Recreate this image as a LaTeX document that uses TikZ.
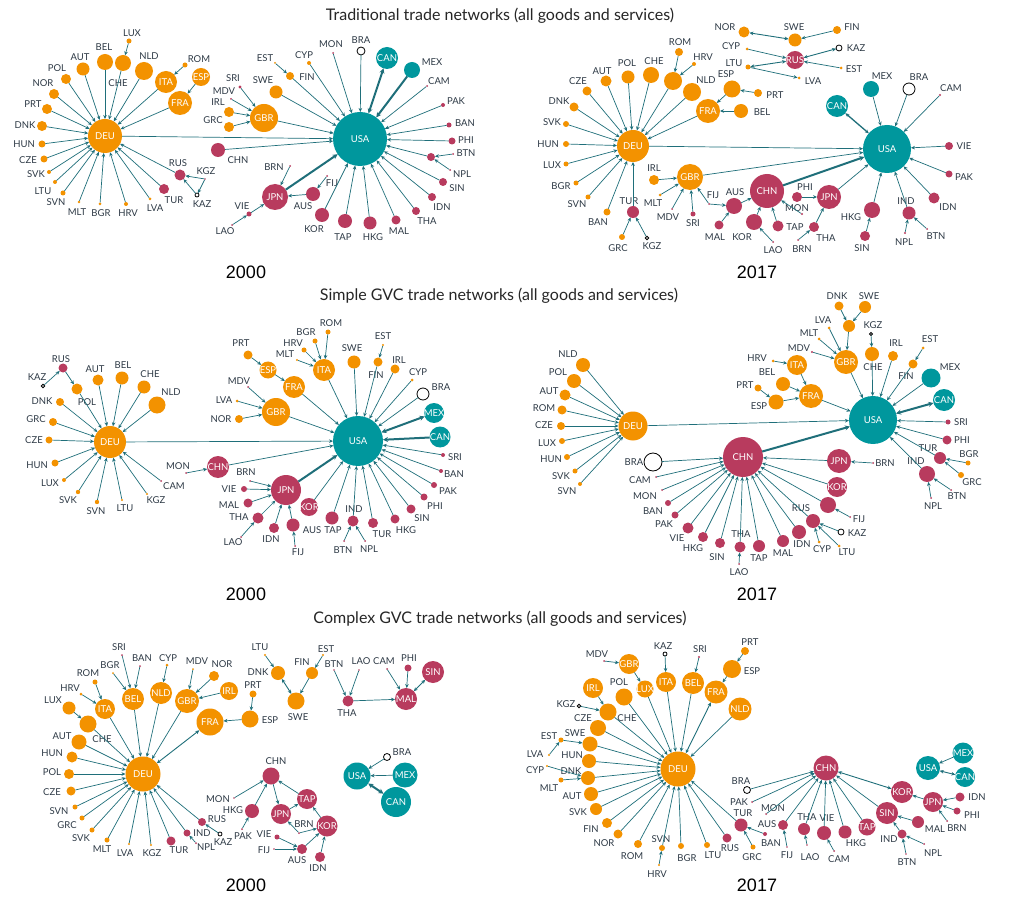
\documentclass[tikz,border=0pt]{standalone}
\usepackage{fontspec}
\setmainfont{Lato}
\newfontfamily\yearfont{Liberation Sans}
\usetikzlibrary{arrows.meta}
\definecolor{cor}{HTML}{F39200}
\definecolor{cte}{HTML}{00979D}
\definecolor{ccr}{HTML}{B83B5E}
\definecolor{car}{HTML}{1F6F7A}
\definecolor{ctx}{HTML}{2E3A46}
\newcommand\labfont{\fontsize{9.5}{10}\selectfont}
\tikzset{
 cnode/.style={circle,inner sep=0pt,outer sep=0pt},
 sor/.style={cnode,fill=cor},
 ste/.style={cnode,fill=cte},
 scr/.style={cnode,fill=ccr},
 sop/.style={cnode,draw=black,fill=white,line width=0.8pt},
 lab/.style={text=ctx,font=\labfont,inner sep=0pt},
 inl/.style={text=white,font=\labfont,inner sep=0pt},
 ar/.style={draw=car,line width=0.7pt,-{Stealth[length=4pt,width=3.6pt]}},
 ar2/.style={draw=car,line width=0.9pt,{Stealth[length=4pt,width=3.6pt]}-{Stealth[length=4pt,width=3.6pt]}},
 th/.style={draw=car,line width=2pt,-{Stealth[length=5pt,width=5pt]}},
 th2/.style={draw=car,line width=2pt,{Stealth[length=5pt,width=5pt]}-{Stealth[length=5pt,width=5pt]}},
 ttl/.style={text=black!85,font=\fontsize{16}{18}\selectfont},
 yr/.style={text=black,font=\yearfont\fontsize{18}{20}\selectfont},
}
\newcommand\ndI[6]{\node[#5,minimum size=#4*2pt] (#1) at (#2,#3) {}; \node[inl] (#1-t) at (#1) {#6};}
\newcommand\ndO[8]{\node[#5,minimum size=#4*2pt] (#1) at (#2,#3) {}; \node[lab] (#1-l) at (#7,#8) {#6};}
\newcommand\ndU[5]{\node[#5,minimum size=#4*2pt] (#1) at (#2,#3) {};}
\newcommand\ed[2]{\draw[ar] (#1)--(#2);}
\newcommand\spokes[3]{\foreach \s in {#3} {\draw[ar] (#2\s)--(#2#1);}}
\begin{document}
\begin{tikzpicture}[x=1pt,y=-1pt]
\useasboundingbox (0,0) rectangle (1023,901);
\fill[white] (0,0) rectangle (1023,901);
% titles
\node[ttl] (t1) at (500,16) {Traditional trade networks (all goods and services)};
\node[ttl] (t2) at (499,296) {Simple GVC trade networks (all goods and services)};
\node[ttl] (t3) at (500,619) {Complex GVC trade networks (all goods and services)};
\node[yr] (y1) at (246,272) {2000};
\node[yr] (y2) at (757,272) {2017};
\node[yr] (y3) at (246,594) {2000};
\node[yr] (y4) at (757,594) {2017};
\node[yr] (y5) at (246,885) {2000};
\node[yr] (y6) at (757,885) {2017};

%================ PANEL A
\ndI{aDEU}{105}{136}{17}{sor}{DEU}
\ndI{aUSA}{360}{139}{27}{ste}{USA}
\ndI{aGBR}{264}{118}{14}{sor}{GBR}
\ndI{aITA}{166}{82}{11}{sor}{ITA}
\ndI{aESP}{201}{77}{9}{sor}{ESP}
\ndI{aFRA}{180}{103}{12}{sor}{FRA}
\ndI{aCAN}{387}{58}{11}{ste}{CAN}
\ndI{aJPN}{275}{197}{13}{scr}{JPN}
\ndO{aLUX}{129}{41}{2.5}{sor}{LUX}{132}{33}
\ndO{aBEL}{105}{62}{8}{sor}{BEL}{104}{47}
\ndO{aCHE}{123}{63}{8}{sor}{CHE}{118}{83}
\ndO{aAUT}{83}{69}{6.5}{sor}{AUT}{80}{57}
\ndO{aNLD}{144}{71}{9}{sor}{NLD}{149}{56}
\ndO{aPOL}{66}{79}{5}{sor}{POL}{57}{68}
\ndO{aNOR}{54}{94}{5}{sor}{NOR}{43}{83}
\ndO{aPRT}{47}{109}{5}{sor}{PRT}{33}{104}
\ndO{aDNK}{42}{126}{5}{sor}{DNK}{25}{125}
\ndO{aHUN}{42}{144}{3.5}{sor}{HUN}{24}{144}
\ndO{aCZE}{44}{159}{3.5}{sor}{CZE}{28}{160}
\ndO{aSVK}{49}{172}{2}{sor}{SVK}{36}{174}
\ndO{aLTU}{55}{182}{2}{sor}{LTU}{43}{191}
\ndO{aSVN}{63}{193}{2.5}{sor}{SVN}{56}{202}
\ndO{aMLT}{79}{202}{1.3}{sor}{MLT}{77}{212}
\ndO{aBGR}{100}{204}{1.5}{sor}{BGR}{101}{213}
\ndO{aHRV}{126}{204}{2}{sor}{HRV}{128}{213}
\ndO{aLVA}{150}{199}{1.5}{sor}{LVA}{155}{208}
\ndO{aTUR}{164}{189}{5}{scr}{TUR}{174}{200}
\ndO{aRUS}{180}{175}{5.5}{scr}{RUS}{178}{163}
\ndO{aKGZ}{205}{179}{0.8}{scr}{KGZ}{206}{171}
\ndO{aKAZ}{197}{195}{2}{sop}{KAZ}{202}{204}
\ndO{aROM}{185}{65}{2.5}{sor}{ROM}{199}{59}
\ndO{aCHN}{218}{150}{7}{scr}{CHN}{238}{160}
\ndO{aSRI}{240}{87}{1.7}{scr}{SRI}{233}{78}
\ndO{aMDV}{231}{99}{1}{scr}{MDV}{224}{91}
\ndO{aIRL}{229}{112}{5}{sor}{IRL}{218}{102}
\ndO{aGRC}{229}{127}{5}{sor}{GRC}{213}{120}
\ndO{aSWE}{276}{92}{6.5}{sor}{SWE}{263}{80}
\ndO{aFIN}{290}{76}{4}{sor}{FIN}{307}{77}
\ndO{aEST}{275}{63}{1}{sor}{EST}{265}{58}
\ndO{aCYP}{309}{63}{2}{sor}{CYP}{304}{55}
\ndO{aMON}{333}{53}{1}{scr}{MON}{331}{44}
\ndO{aBRA}{361}{51}{4}{sop}{BRA}{361}{40}
\ndO{aMEX}{412}{70}{8}{ste}{MEX}{432}{62}
\ndO{aCAM}{427}{86}{1}{scr}{CAM}{439}{81}
\ndO{aPAK}{443}{105}{2}{scr}{PAK}{456}{101}
\ndO{aBAN}{449}{125}{2.5}{scr}{BAN}{465}{123}
\ndO{aPHI}{452}{141}{3.5}{scr}{PHI}{466}{140}
\ndU{aIND}{431}{157}{4}{scr}
\ndO{aBTN}{453}{154}{1}{scr}{BTN}{466}{153}
\ndO{aNPL}{450}{170}{1}{scr}{NPL}{462}{174}
\ndO{aSIN}{443}{182}{4}{scr}{SIN}{457}{188}
\ndO{aIDN}{432}{197}{4}{scr}{IDN}{442}{207}
\ndO{aTHA}{416}{211}{4}{scr}{THA}{427}{221}
\ndO{aMAL}{396}{220}{4.5}{scr}{MAL}{399}{231}
\ndO{aHKG}{370}{223}{6.5}{scr}{HKG}{373}{237}
\ndO{aTAP}{345}{221}{7}{scr}{TAP}{343}{237}
\ndO{aKOR}{322}{215}{7}{scr}{KOR}{314}{229}
\ndO{aAUS}{313}{194}{7}{scr}{AUS}{303}{206}
\ndO{aFIJ}{327}{176}{1}{scr}{FIJ}{332}{183}
\ndO{aBRN}{290}{166}{1}{scr}{BRN}{274}{167}
\ndO{aVIE}{249}{214}{2.5}{scr}{VIE}{242}{206}
\ndO{aLAO}{232}{225}{1}{scr}{LAO}{225}{231}

\spokes{DEU}{a}{BEL,CHE,AUT,NLD,POL,NOR,PRT,DNK,HUN,CZE,SVK,LTU,SVN,MLT,BGR,HRV,LVA,TUR,RUS,ITA,FRA}
\ed{aLUX}{aCHE}\ed{aROM}{aITA}\ed{aESP}{aFRA}\ed{aKGZ}{aRUS}\ed{aKGZ}{aKAZ}\ed{aKAZ}{aRUS}
\spokes{GBR}{a}{SRI,MDV,IRL,GRC}
\ed{aEST}{aFIN}
\spokes{USA}{a}{DEU,CHN,GBR,SWE,FIN,CYP,MON,BRA,CAM,PAK,BAN,PHI,IND,SIN,IDN,THA,MAL,HKG,TAP,KOR}
\draw[th2] (aCAN)--(aUSA); \draw[th] (aMEX)--(aUSA); \draw[th] (aJPN)--(aUSA);
\spokes{IND}{a}{BTN,NPL}
\spokes{JPN}{a}{BRN,AUS,VIE}
\ed{aLAO}{aVIE}\ed{aFIJ}{aAUS}

%================ PANEL B
\ndI{bDEU}{633}{146}{16}{sor}{DEU}
\ndI{bFRA}{708}{111}{12}{sor}{FRA}
\ndI{bGBR}{690}{177}{13}{sor}{GBR}
\ndI{bCHN}{767}{191}{17}{scr}{CHN}
\ndI{bUSA}{887}{149}{24}{ste}{USA}
\ndI{bCAN}{837}{106}{11}{ste}{CAN}
\ndI{bJPN}{829}{197}{12}{scr}{JPN}
\ndI{bRUS}{795}{60}{9}{scr}{RUS}
\ndO{bROM}{679}{52}{4}{sor}{ROM}{680}{42}
\ndO{bHRV}{694}{64}{2}{sor}{HRV}{703}{57}
\ndU{bITA}{673}{81}{9}{sor}
\ndO{bCHE}{651}{75}{8}{sor}{CHE}{654}{61}
\ndO{bPOL}{628}{77}{6.5}{sor}{POL}{627}{63}
\ndO{bAUT}{606}{81}{5.5}{sor}{AUT}{602}{71}
\ndO{bCZE}{587}{91}{4.5}{sor}{CZE}{578}{81}
\ndO{bDNK}{574}{107}{4.5}{sor}{DNK}{559}{101}
\ndO{bSVK}{566}{124}{3}{sor}{SVK}{552}{122}
\ndO{bHUN}{566}{144}{3}{sor}{HUN}{548}{144}
\ndO{bLUX}{566}{164}{2.5}{sor}{LUX}{552}{165}
\ndO{bBGR}{576}{183}{2.5}{sor}{BGR}{561}{186}
\ndO{bSVN}{588}{197}{2.5}{sor}{SVN}{577}{204}
\ndO{bBAN}{607}{212}{3.5}{sor}{BAN}{598}{222}
\ndO{bNLD}{692}{92}{9}{sor}{NLD}{706}{80}
\ndO{bESP}{732}{89}{8.5}{sor}{ESP}{726}{74}
\ndO{bPRT}{758}{93}{4}{sor}{PRT}{775}{95}
\ndO{bBEL}{741}{111}{7}{sor}{BEL}{762}{112}
\ndO{bTUR}{633}{212}{6}{scr}{TUR}{629}{201}
\ndO{bGRC}{622}{237}{3}{sor}{GRC}{618}{248}
\ndO{bKGZ}{647}{238}{1.8}{sop}{KGZ}{652}{246}
\ndO{bIRL}{654}{180}{5}{sor}{IRL}{654}{168}
\ndO{bMLT}{660}{195}{1.5}{sor}{MLT}{653}{203}
\ndO{bMDV}{672}{209}{1}{scr}{MDV}{668}{217}
\ndO{bSRI}{693}{214}{2.5}{scr}{SRI}{693}{223}
\ndO{bFIJ}{709}{204}{1}{scr}{FIJ}{713}{195}
\ndO{bAUS}{734}{206}{8}{scr}{AUS}{735}{192}
\ndO{bMAL}{719}{225}{4.5}{scr}{MAL}{715}{237}
\ndO{bKOR}{754}{222}{8}{scr}{KOR}{742}{237}
\ndO{bNOR}{744}{32}{5.5}{sor}{NOR}{725}{27}
\ndO{bCYP}{747}{49}{1.5}{sor}{CYP}{731}{46}
\ndO{bLTU}{748}{67}{2.5}{sor}{LTU}{734}{63}
\ndO{bSWE}{795}{40}{6.5}{sor}{SWE}{794}{27}
\ndO{bFIN}{837}{30}{4}{sor}{FIN}{852}{27}
\ndO{bKAZ}{839}{48}{3}{sop}{KAZ}{856}{48}
\ndO{bEST}{841}{68}{1.5}{sor}{EST}{854}{69}
\ndO{bLVA}{799}{78}{1.5}{sor}{LVA}{813}{81}
\ndO{bMEX}{871}{89}{8}{ste}{MEX}{882}{76}
\ndO{bBRA}{909}{89}{6}{sop}{BRA}{919}{77}
\ndO{bCAM}{940}{95}{1.2}{scr}{CAM}{951}{88}
\ndO{bVIE}{949}{146}{4}{scr}{VIE}{964}{146}
\ndO{bPAK}{949}{174}{3.5}{scr}{PAK}{964}{177}
\ndO{bIDN}{934}{198}{5.5}{scr}{IDN}{948}{207}
\ndO{bIND}{909}{213}{6.5}{scr}{IND}{906}{201}
\ndO{bNPL}{905}{233}{1.2}{scr}{NPL}{904}{242}
\ndO{bBTN}{927}{229}{1}{scr}{BTN}{936}{236}
\ndO{bHKG}{872}{210}{8}{scr}{HKG}{851}{217}
\ndO{bSIN}{865}{236}{5}{scr}{SIN}{862}{248}
\ndO{bPHI}{797}{197}{5}{scr}{PHI}{805}{187}
\ndO{bMON}{802}{214}{1.2}{scr}{MON}{797}{208}
\ndO{bTAP}{778}{226}{5.5}{scr}{TAP}{795}{227}
\ndO{bTHA}{814}{227}{5}{scr}{THA}{826}{238}
\ndO{bBRN}{798}{240}{1}{scr}{BRN}{802}{249}
\ndO{bLAO}{773}{242}{1}{scr}{LAO}{773}{250}

\spokes{DEU}{b}{CHE,POL,AUT,CZE,DNK,SVK,HUN,LUX,BGR,SVN,BAN,ITA,NLD,FRA,TUR}
\spokes{ITA}{b}{ROM,HRV}
\spokes{FRA}{b}{ESP,BEL}
\ed{bPRT}{bESP}
\spokes{TUR}{b}{GRC,KGZ}
\spokes{GBR}{b}{IRL,MLT,MDV,SRI,FIJ}
\spokes{AUS}{b}{FIJ,MAL}
\spokes{CHN}{b}{AUS,KOR,MON,TAP}
\ed{bLAO}{bKOR}
\spokes{JPN}{b}{PHI,THA}
\ed{bBRN}{bTHA}
\spokes{USA}{b}{DEU,GBR,JPN,HKG,IND,IDN,PAK,VIE,CAM,BRA,MEX}
\draw[th] (bCHN)--(bUSA);
\draw[ar2,line width=1.3pt] (bCAN)--(bUSA);
\ed{bSIN}{bHKG}
\spokes{IND}{b}{NPL,BTN}
\draw[ar2] (bNOR)--(bSWE); \ed{bFIN}{bSWE} \draw[ar2] (bKAZ)--(bRUS); \ed{bEST}{bRUS}\ed{bCYP}{bRUS} \draw[ar2] (bLTU)--(bRUS); \ed{bLTU}{bLVA}

%================ PANEL C
\ndI{cDEU}{110}{442}{16}{sor}{DEU}
\ndI{cCHN}{218}{467}{11}{scr}{CHN}
\ndI{cUSA}{358}{441}{25}{ste}{USA}
\ndI{cESP}{268}{370}{8.5}{sor}{ESP}
\ndI{cFRA}{294}{387}{11}{sor}{FRA}
\ndI{cGBR}{276}{412}{14}{sor}{GBR}
\ndI{cITA}{324}{370}{11}{sor}{ITA}
\ndI{cMEX}{434}{413}{10}{ste}{MEX}
\ndI{cCAN}{440}{437}{10.5}{ste}{CAN}
\ndI{cKOR}{309}{507}{9}{scr}{KOR}
\ndI{cJPN}{286}{490}{15}{scr}{JPN}
\ndO{cRUS}{63}{368}{4.5}{scr}{RUS}{61}{359}
\ndO{cKAZ}{43}{386}{1.8}{sop}{KAZ}{37}{377}
\ndO{cPOL}{77}{389}{5.5}{sor}{POL}{87}{402}
\ndO{cAUT}{98}{380}{5.5}{sor}{AUT}{95}{369}
\ndO{cBEL}{122}{378}{6.5}{sor}{BEL}{123}{365}
\ndO{cCHE}{144}{387}{6.5}{sor}{CHE}{150}{374}
\ndO{cNLD}{157}{405}{8.5}{sor}{NLD}{171}{392}
\ndO{cDNK}{60}{402}{4}{sor}{DNK}{42}{401}
\ndO{cGRC}{53}{422}{4}{sor}{GRC}{36}{419}
\ndO{cCZE}{49}{440}{3.5}{sor}{CZE}{34}{440}
\ndO{cHUN}{55}{463}{3.5}{sor}{HUN}{37}{465}
\ndO{cLUX}{64}{480}{2}{sor}{LUX}{50}{483}
\ndO{cSVK}{78}{492}{2.2}{sor}{SVK}{68}{500}
\ndO{cSVN}{97}{502}{2.2}{sor}{SVN}{96}{511}
\ndO{cLTU}{122}{500}{1.2}{sor}{LTU}{125}{508}
\ndO{cKGZ}{147}{494}{1.2}{sor}{KGZ}{156}{500}
\ndO{cCAM}{161}{481}{1}{scr}{CAM}{174}{486}
\ndO{cMON}{186}{473}{1}{scr}{MON}{178}{466}
\ndO{cPRT}{248}{355}{4.5}{sor}{PRT}{241}{343}
\ndO{cMDV}{248}{387}{1}{scr}{MDV}{239}{381}
\ndO{cLVA}{237}{401}{1.5}{sor}{LVA}{224}{400}
\ndO{cNOR}{239}{419}{4}{sor}{NOR}{221}{419}
\ndO{cBRN}{250}{481}{1}{scr}{BRN}{246}{472}
\ndO{cVIE}{244}{489}{3}{scr}{VIE}{229}{489}
\ndO{cMAL}{248}{503}{4.5}{scr}{MAL}{229}{505}
\ndO{cTHA}{258}{518}{5.5}{scr}{THA}{239}{517}
\ndO{cLAO}{241}{537}{1}{scr}{LAO}{233}{542}
\ndO{cROM}{328}{332}{2.5}{sor}{ROM}{331}{323}
\ndO{cBGR}{315}{341}{2.5}{sor}{BGR}{306}{332}
\ndO{cHRV}{304}{350}{2.5}{sor}{HRV}{293}{343}
\ndO{cMLT}{297}{360}{1.2}{sor}{MLT}{285}{354}
\ndO{cSWE}{354}{362}{6.5}{sor}{SWE}{352}{348}
\ndO{cFIN}{378}{362}{4.5}{sor}{FIN}{376}{375}
\ndO{cEST}{383}{345}{1.2}{sor}{EST}{383}{336}
\ndO{cIRL}{395}{369}{4.5}{sor}{IRL}{399}{360}
\ndO{cCYP}{412}{380}{1.5}{sor}{CYP}{418}{372}
\ndO{cBRA}{423}{394}{6}{sop}{BRA}{441}{387}
\ndO{cSRI}{443}{455}{2}{scr}{SRI}{455}{457}
\ndO{cBAN}{441}{471}{2}{scr}{BAN}{454}{474}
\ndO{cPAK}{434}{485}{3}{scr}{PAK}{448}{491}
\ndO{cPHI}{424}{497}{3.5}{scr}{PHI}{435}{506}
\ndO{cSIN}{411}{509}{4.5}{scr}{SIN}{422}{518}
\ndO{cHKG}{395}{519}{4.5}{scr}{HKG}{406}{530}
\ndO{cTUR}{373}{523}{5}{scr}{TUR}{382}{534}
\ndO{cIND}{353}{521}{5.5}{scr}{IND}{354}{509}
\ndO{cBTN}{344}{541}{1}{scr}{BTN}{343}{550}
\ndO{cNPL}{365}{541}{1}{scr}{NPL}{369}{549}
\ndO{cTAP}{332}{518}{6.5}{scr}{TAP}{333}{530}
\ndO{cAUS}{293}{525}{6.5}{scr}{AUS}{312}{530}
\ndO{cFIJ}{295}{546}{1}{scr}{FIJ}{298}{552}
\ndO{cIDN}{274}{528}{5}{scr}{IDN}{271}{539}

\spokes{DEU}{c}{POL,AUT,BEL,CHE,NLD,DNK,GRC,CZE,HUN,LUX,SVK,SVN,LTU,KGZ,CAM}
\ed{cKAZ}{cRUS}\ed{cRUS}{cPOL}\ed{cMON}{cCHN}\ed{cCHN}{cUSA}\ed{cDEU}{cUSA}\ed{cPRT}{cESP}\ed{cESP}{cFRA}
\spokes{GBR}{c}{MDV,LVA,NOR}
\spokes{ITA}{c}{ROM,BGR,HRV,MLT}
\spokes{USA}{c}{ITA,FRA,GBR,SWE,FIN,IRL,CYP,BRA,SRI,BAN,PAK,PHI,SIN,HKG,TUR,IND,TAP,KOR}
\draw[th] (cJPN)--(cUSA); \draw[th] (cCAN)--(cUSA); \draw[th2] (cMEX)--(cUSA);
\ed{cEST}{cFIN}
\spokes{IND}{c}{BTN,NPL}
\spokes{JPN}{c}{BRN,VIE,MAL,THA,IDN,AUS}
\ed{cLAO}{cTHA}\ed{cFIJ}{cAUS}

%================ PANEL D
\ndI{dDEU}{633}{426}{14.5}{sor}{DEU}
\ndI{dCHN}{743}{457}{20}{scr}{CHN}
\ndI{dUSA}{873}{420}{24}{ste}{USA}
\ndI{dGBR}{846}{362}{12}{sor}{GBR}
\ndI{dITA}{797}{365}{10}{sor}{ITA}
\ndI{dFRA}{811}{396}{12}{sor}{FRA}
\ndI{dCAN}{944}{400}{11}{ste}{CAN}
\ndI{dJPN}{839}{461}{12}{scr}{JPN}
\ndI{dKOR}{837}{487}{10}{scr}{KOR}
\ndO{dNLD}{583}{365}{7}{sor}{NLD}{568}{354}
\ndO{dPOL}{574}{381}{7}{sor}{POL}{558}{372}
\ndO{dAUT}{565}{395}{5.5}{sor}{AUT}{549}{391}
\ndO{dROM}{562}{410}{4.5}{sor}{ROM}{544}{408}
\ndO{dCZE}{561}{426}{4}{sor}{CZE}{544}{425}
\ndO{dLUX}{562}{441}{3}{sor}{LUX}{547}{443}
\ndO{dHUN}{567}{457}{3}{sor}{HUN}{551}{459}
\ndO{dSVK}{575}{471}{2.5}{sor}{SVK}{561}{476}
\ndO{dSVN}{580}{484}{2}{sor}{SVN}{567}{491}
\ndO{dBRA}{653}{462}{9}{sop}{BRA}{634}{462}
\ndO{dCAM}{656}{477}{1}{scr}{CAM}{640}{480}
\ndO{dMON}{662}{490}{1}{scr}{MON}{645}{496}
\ndO{dBAN}{668}{503}{3}{scr}{BAN}{653}{511}
\ndO{dPAK}{675}{515}{3.5}{scr}{PAK}{664}{524}
\ndO{dVIE}{688}{528}{5.5}{scr}{VIE}{677}{538}
\ndO{dHKG}{703}{537}{5}{scr}{HKG}{693}{548}
\ndO{dSIN}{720}{543}{5}{scr}{SIN}{717}{557}
\ndO{dTHA}{740}{547}{5.5}{scr}{THA}{741}{534}
\ndO{dLAO}{739}{564}{1}{scr}{LAO}{739}{572}
\ndO{dTAP}{759}{546}{6}{scr}{TAP}{759}{558}
\ndO{dPRT}{758}{388}{3.5}{sor}{PRT}{745}{385}
\ndO{dESP}{776}{402}{7.5}{sor}{ESP}{759}{406}
\ndO{dBEL}{783}{384}{7}{sor}{BEL}{767}{372}
\ndO{dHRV}{773}{361}{1.5}{sor}{HRV}{757}{358}
\ndO{dDNK}{839}{306}{4.5}{sor}{DNK}{837}{296}
\ndO{dSWE}{865}{307}{6}{sor}{SWE}{869}{296}
\ndU{dUNK}{849}{326}{6}{sor}
\ndO{dLVA}{829}{328}{1.5}{sor}{LVA}{823}{320}
\ndO{dMLT}{819}{339}{1.5}{sor}{MLT}{809}{333}
\ndO{dMDV}{812}{352}{1.2}{scr}{MDV}{799}{348}
\ndO{dKGZ}{871}{334}{1.5}{sop}{KGZ}{873}{325}
\ndO{dCHE}{872}{354}{7}{sor}{CHE}{873}{367}
\ndO{dIRL}{893}{356}{5}{sor}{IRL}{896}{343}
\ndO{dEST}{923}{348}{1.5}{sor}{EST}{930}{339}
\ndO{dFIN}{913}{364}{4.5}{sor}{FIN}{906}{376}
\ndO{dMEX}{931}{378}{9.5}{ste}{MEX}{950}{367}
\ndO{dSRI}{948}{422}{2.5}{scr}{SRI}{961}{422}
\ndO{dPHI}{947}{440}{4.5}{scr}{PHI}{962}{440}
\ndO{dTUR}{940}{458}{6}{scr}{TUR}{928}{448}
\ndO{dBGR}{968}{463}{2.5}{sor}{BGR}{969}{454}
\ndO{dGRC}{961}{475}{3}{sor}{GRC}{972}{482}
\ndO{dIND}{927}{474}{8}{scr}{IND}{916}{461}
\ndO{dNPL}{931}{498}{1}{scr}{NPL}{933}{506}
\ndO{dBTN}{951}{490}{1}{scr}{BTN}{957}{496}
\ndO{dBRN}{873}{463}{1}{scr}{BRN}{885}{463}
\ndU{dXB}{828}{505}{8}{scr}
\ndO{dFIJ}{850}{517}{1}{scr}{FIJ}{859}{519}
\ndO{dRUS}{813}{521}{7}{scr}{RUS}{801}{508}
\ndO{dKAZ}{841}{532}{3}{sop}{KAZ}{857}{533}
\ndO{dCYP}{819}{542}{1.5}{sor}{CYP}{822}{549}
\ndO{dLTU}{839}{546}{1.5}{sor}{LTU}{847}{552}
\ndO{dIDN}{799}{532}{7}{scr}{IDN}{802}{544}
\ndO{dMAL}{783}{541}{6}{scr}{MAL}{783}{553}

\spokes{DEU}{d}{NLD,POL,AUT,ROM,CZE,LUX,HUN,SVK,SVN}
\ed{dDEU}{dUSA}
\spokes{CHN}{d}{BRA,CAM,MON,BAN,PAK,VIE,HKG,SIN,THA,TAP,MAL,IDN,RUS,XB,KOR,JPN}
\ed{dLAO}{dTHA}
\draw[th] (dCHN)--(dUSA);
\ed{dBRN}{dJPN}\ed{dFIJ}{dXB}
\spokes{RUS}{d}{KAZ,CYP,LTU}
\ed{dPRT}{dESP}
\spokes{FRA}{d}{ESP,BEL,ITA}
\ed{dHRV}{dITA}
\spokes{UNK}{d}{DNK,SWE}
\spokes{GBR}{d}{UNK,LVA,MLT,MDV}
\ed{dKGZ}{dCHE}\ed{dEST}{dFIN}
\spokes{USA}{d}{FRA,GBR,CHE,IRL,FIN,MEX,SRI,PHI,TUR,IND}
\draw[th2] (dCAN)--(dUSA);
\spokes{TUR}{d}{BGR,GRC}
\spokes{IND}{d}{NPL,BTN}

%================ PANEL E
\ndI{eDEU}{143}{774}{17.5}{sor}{DEU}
\ndI{eBEL}{133}{699}{11}{sor}{BEL}
\ndI{eNLD}{161}{693}{11}{sor}{NLD}
\ndI{eGBR}{187}{701}{12}{sor}{GBR}
\ndI{eIRL}{229}{691}{9}{sor}{IRL}
\ndI{eFRA}{210}{722}{13.5}{sor}{FRA}
\ndI{eITA}{105}{709}{10}{sor}{ITA}
\ndI{eMAL}{406}{699}{11}{scr}{MAL}
\ndI{eSIN}{433}{672}{11}{scr}{SIN}
\ndI{eTAP}{307}{799}{10}{scr}{TAP}
\ndI{eJPN}{281}{814}{10}{scr}{JPN}
\ndI{eKOR}{327}{826}{10.5}{scr}{KOR}
\ndI{eUSA}{357}{776}{13.5}{ste}{USA}
\ndI{eMEX}{405}{775}{12.5}{ste}{MEX}
\ndI{eCAN}{396}{802}{15}{ste}{CAN}
\ndO{eSRI}{122}{655}{1}{scr}{SRI}{119}{647}
\ndO{eBAN}{140}{666}{1}{scr}{BAN}{142}{658}
\ndO{eBGR}{113}{673}{1}{sor}{BGR}{110}{665}
\ndO{eCYP}{167}{665}{1.5}{sor}{CYP}{168}{658}
\ndO{eMDV}{193}{669}{1}{sor}{MDV}{197}{661}
\ndO{eNOR}{214}{676}{5}{sor}{NOR}{222}{664}
\ndO{eESP}{250}{719}{8.5}{sor}{ESP}{270}{720}
\ndO{ePRT}{253}{694}{3.5}{sor}{PRT}{253}{685}
\ndO{eROM}{95}{682}{2.5}{sor}{ROM}{88}{673}
\ndO{eHRV}{81}{694}{1.5}{sor}{HRV}{70}{688}
\ndO{eLUX}{69}{708}{6.5}{sor}{LUX}{53}{700}
\ndO{eCHE}{88}{724}{8.5}{sor}{CHE}{102}{739}
\ndO{eAUT}{79}{742}{7.5}{sor}{AUT}{62}{736}
\ndO{eHUN}{72}{757}{5.5}{sor}{HUN}{52}{753}
\ndO{ePOL}{69}{774}{5}{sor}{POL}{52}{772}
\ndO{eCZE}{71}{791}{4.5}{sor}{CZE}{52}{792}
\ndO{eSVN}{75}{807}{2.5}{sor}{SVN}{59}{811}
\ndO{eGRC}{82}{818}{2.5}{sor}{GRC}{67}{825}
\ndO{eSVK}{92}{830}{2.5}{sor}{SVK}{81}{838}
\ndO{eMLT}{107}{840}{2.5}{sor}{MLT}{102}{849}
\ndO{eLVA}{129}{844}{1.2}{sor}{LVA}{125}{853}
\ndO{eKGZ}{151}{845}{1.2}{sor}{KGZ}{152}{853}
\ndO{eTUR}{171}{841}{4.5}{scr}{TUR}{179}{850}
\ndO{eIND}{187}{833}{3.5}{scr}{IND}{202}{833}
\ndO{eNPL}{196}{843}{1}{scr}{NPL}{206}{847}
\ndO{eRUS}{202}{822}{4}{scr}{RUS}{217}{819}
\ndO{eKAZ}{220}{834}{2}{sop}{KAZ}{223}{842}
\ndO{eMON}{234}{798}{0.8}{scr}{MON}{218}{799}
\ndO{eHKG}{252}{811}{7}{scr}{HKG}{233}{810}
\ndO{ePAK}{242}{829}{1}{scr}{PAK}{243}{836}
\ndO{eLTU}{265}{655}{1.2}{sor}{LTU}{260}{647}
\ndO{eDNK}{278}{673}{7}{sor}{DNK}{258}{672}
\ndO{eFIN}{312}{673}{6}{sor}{FIN}{302}{662}
\ndO{eEST}{323}{655}{1.2}{sor}{EST}{326}{649}
\ndO{eSWE}{296}{701}{8.5}{sor}{SWE}{298}{717}
\ndO{eBTN}{334}{670}{0.8}{scr}{BTN}{334}{664}
\ndO{eLAO}{359}{670}{0.8}{scr}{LAO}{361}{661}
\ndO{eTHA}{348}{701}{5.5}{scr}{THA}{347}{713}
\ndO{eCAM}{387}{669}{1}{scr}{CAM}{384}{661}
\ndO{ePHI}{408}{668}{3.5}{scr}{PHI}{409}{658}
\ndO{eCHN}{271}{776}{8.5}{scr}{CHN}{276}{761}
\ndO{eBRN}{299}{833}{1}{scr}{BRN}{304}{824}
\ndO{eVIE}{277}{837}{2.5}{scr}{VIE}{264}{834}
\ndO{eFIJ}{274}{849}{0.8}{scr}{FIJ}{264}{850}
\ndO{eAUS}{302}{849}{5}{scr}{AUS}{297}{860}
\ndO{eIDN}{320}{857}{5}{scr}{IDN}{318}{868}
\ndO{eBRA}{387}{757}{3.5}{sop}{BRA}{402}{752}

\spokes{DEU}{e}{BEL,NLD,GBR,ITA,CHE,AUT,HUN,POL,CZE,SVN,GRC,SVK,MLT,LVA,KGZ,TUR,IND,RUS}
\draw[ar2] (eFRA)--(eDEU);
\spokes{BEL}{e}{SRI,BAN,BGR}
\ed{eCYP}{eNLD}
\spokes{GBR}{e}{MDV,NOR,IRL}
\spokes{ITA}{e}{ROM,HRV}
\ed{eLUX}{eCHE}\ed{ePRT}{eESP}\ed{eESP}{eFRA}\ed{eNPL}{eIND}\ed{eKAZ}{eRUS}
\ed{eLTU}{eDNK}\draw[ar2] (eDNK)--(eSWE); \ed{eFIN}{eSWE}\ed{eEST}{eFIN}
\spokes{THA}{e}{BTN,LAO}
\spokes{MAL}{e}{THA,CAM,PHI}
\draw[ar2] (eSIN)--(eMAL);
\spokes{CHN}{e}{MON,HKG,TAP}
\ed{ePAK}{eHKG}\ed{eCHN}{eJPN}\ed{eJPN}{eTAP}\ed{eKOR}{eTAP}\ed{eBRN}{eJPN}\ed{eBRN}{eKOR}
\spokes{AUS}{e}{VIE,FIJ}
\spokes{KOR}{e}{AUS,IDN}
\spokes{USA}{e}{BRA,MEX}
\draw[th2] (eUSA)--(eCAN);

%================ PANEL F
\ndI{fDEU}{678}{769}{17.5}{sor}{DEU}
\ndI{fGBR}{629}{664}{10}{sor}{GBR}
\ndI{fLUX}{645}{689}{8.5}{sor}{LUX}
\ndI{fITA}{666}{682}{10}{sor}{ITA}
\ndI{fBEL}{693}{683}{11}{sor}{BEL}
\ndI{fFRA}{716}{692}{11.5}{sor}{FRA}
\ndI{fNLD}{740}{709}{11.5}{sor}{NLD}
\ndI{fIRL}{593}{688}{10}{sor}{IRL}
\ndI{fCHN}{826}{768}{12.5}{scr}{CHN}
\ndI{fTAP}{867}{827}{8.5}{scr}{TAP}
\ndI{fKOR}{902}{792}{11}{scr}{KOR}
\ndI{fSIN}{887}{813}{11}{scr}{SIN}
\ndI{fJPN}{933}{802}{10}{scr}{JPN}
\ndI{fUSA}{928}{768}{12}{ste}{USA}
\ndI{fMEX}{963}{753}{10.5}{ste}{MEX}
\ndI{fCAN}{965}{777}{10}{ste}{CAN}
\ndO{fMDV}{604}{661}{1}{scr}{MDV}{597}{654}
\ndO{fKAZ}{665}{654}{2}{sop}{KAZ}{663}{646}
\ndO{fSRI}{699}{657}{1.2}{scr}{SRI}{700}{649}
\ndO{fPRT}{745}{651}{4}{sor}{PRT}{750}{642}
\ndO{fESP}{732}{669}{9}{sor}{ESP}{752}{671}
\ndO{fPOL}{624}{697}{8.5}{sor}{POL}{619}{682}
\ndO{fKGZ}{579}{706}{1.8}{sop}{KGZ}{566}{704}
\ndO{fCHE}{608}{712}{8.5}{sor}{CHE}{627}{718}
\ndO{fCZE}{598}{728}{8}{sor}{CZE}{583}{718}
\ndO{fSWE}{590}{744}{7.5}{sor}{SWE}{575}{733}
\ndO{fEST}{561}{740}{2.5}{sor}{EST}{549}{736}
\ndO{fLVA}{549}{755}{1.2}{sor}{LVA}{535}{754}
\ndO{fHUN}{589}{761}{7}{sor}{HUN}{572}{755}
\ndO{fCYP}{547}{766}{1.2}{sor}{CYP}{535}{770}
\ndO{fDNK}{588}{778}{7}{sor}{DNK}{571}{771}
\ndO{fMLT}{561}{780}{2.5}{sor}{MLT}{549}{788}
\ndO{fAUT}{591}{794}{7}{sor}{AUT}{572}{796}
\ndO{fSVK}{596}{809}{6}{sor}{SVK}{578}{812}
\ndO{fFIN}{607}{823}{5}{sor}{FIN}{591}{829}
\ndO{fNOR}{618}{834}{4.5}{sor}{NOR}{604}{843}
\ndO{fROM}{638}{844}{4}{sor}{ROM}{632}{856}
\ndO{fSVN}{662}{848}{3}{sor}{SVN}{661}{839}
\ndO{fHRV}{659}{865}{1.2}{sor}{HRV}{657}{874}
\ndO{fBGR}{681}{846}{3}{sor}{BGR}{687}{858}
\ndO{fLTU}{707}{845}{3}{sor}{LTU}{713}{855}
\ndO{fRUS}{727}{838}{4.5}{scr}{RUS}{730}{848}
\ndO{fTUR}{741}{825}{6.5}{scr}{TUR}{743}{813}
\ndO{fGRC}{753}{847}{2.5}{sor}{GRC}{752}{857}
\ndO{fBAN}{765}{834}{2}{scr}{BAN}{771}{843}
\ndO{fAUS}{783}{825}{5}{scr}{AUS}{767}{824}
\ndO{fFIJ}{787}{847}{0.8}{scr}{FIJ}{787}{855}
\ndO{fBRA}{747}{790}{3.5}{sop}{BRA}{741}{781}
\ndO{fPAK}{752}{802}{1}{scr}{PAK}{739}{802}
\ndO{fMON}{766}{814}{1}{scr}{MON}{773}{808}
\ndO{fTHA}{804}{829}{6}{scr}{THA}{807}{817}
\ndO{fLAO}{807}{845}{0.8}{scr}{LAO}{810}{857}
\ndO{fVIE}{824}{833}{7}{scr}{VIE}{827}{818}
\ndO{fCAM}{834}{851}{1}{scr}{CAM}{839}{859}
\ndO{fHKG}{845}{832}{6.5}{scr}{HKG}{856}{843}
\ndO{fIDN}{960}{797}{4.5}{scr}{IDN}{977}{797}
\ndO{fPHI}{957}{811}{3.5}{scr}{PHI}{972}{815}
\ndO{fBRN}{947}{821}{1}{scr}{BRN}{957}{828}
\ndO{fMAL}{918}{822}{6}{scr}{MAL}{935}{829}
\ndO{fIND}{902}{834}{4.5}{scr}{IND}{889}{839}
\ndO{fNPL}{924}{844}{1}{scr}{NPL}{933}{853}
\ndO{fBTN}{906}{854}{0.8}{scr}{BTN}{907}{862}

\spokes{DEU}{f}{LUX,ITA,BEL,NLD,POL,CHE,CZE,SWE,HUN,DNK,AUT,SVK,FIN,NOR,ROM,SVN,BGR,LTU,RUS,TUR}
\draw[ar2] (fFRA)--(fDEU);
\ed{fMDV}{fGBR}\ed{fGBR}{fLUX}\ed{fKAZ}{fITA}\ed{fSRI}{fBEL}\ed{fPRT}{fESP}\ed{fESP}{fFRA}
\spokes{CHE}{f}{IRL,KGZ}
\ed{fEST}{fSWE}\ed{fLVA}{fEST}
\spokes{DNK}{f}{CYP,MLT}
\ed{fHRV}{fSVN}
\spokes{TUR}{f}{GRC,BAN}
\spokes{CHN}{f}{BRA,PAK,MON,AUS,THA,VIE,HKG,TAP,SIN}
\draw[ar2] (fCHN)--(fKOR);
\ed{fFIJ}{fAUS}\ed{fLAO}{fTHA}\ed{fCAM}{fVIE}\ed{fJPN}{fKOR}
\spokes{JPN}{f}{IDN,PHI,BRN}
\spokes{SIN}{f}{MAL,IND}
\spokes{IND}{f}{NPL,BTN}
\ed{fMEX}{fUSA}\draw[ar2] (fUSA)--(fCAN);
\end{tikzpicture}
\end{document}
